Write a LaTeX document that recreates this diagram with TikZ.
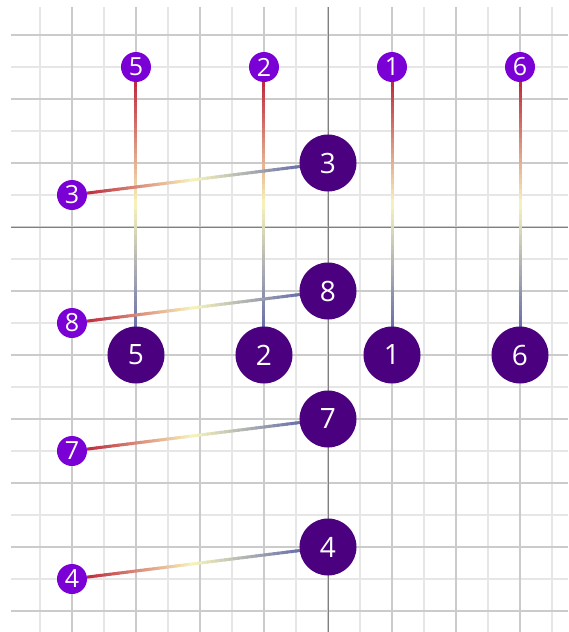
\documentclass[tikz,border=0pt]{standalone}
\usepackage{fontspec}
\setmainfont{Open Sans}
\usetikzlibrary{calc}
\definecolor{lred}{HTML}{BE2A3C}
\definecolor{lyel}{HTML}{F8F4BC}
\definecolor{lblu}{HTML}{6870A8}
\definecolor{dotsm}{HTML}{7A00D6}
\definecolor{dotbg}{HTML}{4B0080}
\definecolor{gridmin}{HTML}{E6E6E6}
\definecolor{gridmaj}{HTML}{CBCBCB}
\definecolor{gridax}{HTML}{808080}
\pgfdeclarelayer{grid}
\pgfdeclarelayer{links}
\pgfsetlayers{grid,links,main}
\newcommand{\gradlink}[2]{%
  \coordinate (gs) at ($(#1)!15pt!(#2)$);
  \coordinate (ge) at ($(#2)!28.5pt!(#1)$);
  \foreach \i in {0,...,47}{%
    \pgfmathsetmacro\ta{\i/48}%
    \pgfmathsetmacro\tb{min((\i+1.3)/48,1)}%
    \ifnum\i<24
      \pgfmathsetmacro\pc{100*(1-2*(\i+0.5)/48)}%
      \colorlet{segc}{lred!\pc!lyel}%
    \else
      \pgfmathsetmacro\pc{100*(2*(\i+0.5)/48-1)}%
      \colorlet{segc}{lblu!\pc!lyel}%
    \fi
    \draw[segc,line width=3pt] ($(gs)!\ta!(ge)$) -- ($(gs)!\tb!(ge)$);
  }%
}
\tikzset{
  smalldot/.style={circle,fill=dotsm,text=white,minimum size=30pt,inner sep=0pt,font=\fontsize{25}{25}\selectfont},
  bigdot/.style={circle,fill=dotbg,text=white,minimum size=57pt,inner sep=0pt,font=\fontsize{28}{28}\selectfont}
}
\begin{document}
\begin{tikzpicture}[x=32pt,y=32pt]
\useasboundingbox (-10.25,-12.65625) rectangle (7.5,7.09375);
\begin{pgfonlayer}{grid}
\fill[white] (-10.25,-12.65625) rectangle (7.5,7.09375);
\draw[gridmin,line width=1.5pt] (-9.9,-12.66) grid[step=1] (7.5,6.875);
\draw[gridmaj,line width=1.5pt] (-9.9,-12.66) grid[step=2] (7.5,6.875);
\draw[gridax,line width=0.8pt] (0,-12.66) -- (0,6.875);
\draw[gridax,line width=0.8pt] (-9.9,0) -- (7.5,0);
\end{pgfonlayer}
\node[smalldot] (t5) at (-6,5) {5};
\node[smalldot] (t2) at (-2,5) {2};
\node[smalldot] (t1) at (2,5) {1};
\node[smalldot] (t6) at (6,5) {6};
\node[smalldot] (l3) at (-8,1) {3};
\node[smalldot] (l8) at (-8,-3) {8};
\node[smalldot] (l7) at (-8,-7) {7};
\node[smalldot] (l4) at (-8,-11) {4};
\node[bigdot] (m3) at (0,2) {3};
\node[bigdot] (m8) at (0,-2) {8};
\node[bigdot] (m7) at (0,-6) {7};
\node[bigdot] (m4) at (0,-10) {4};
\node[bigdot] (b5) at (-6,-4) {5};
\node[bigdot] (b2) at (-2,-4) {2};
\node[bigdot] (b1) at (2,-4) {1};
\node[bigdot] (b6) at (6,-4) {6};
\begin{pgfonlayer}{links}
\gradlink{t5}{b5}
\gradlink{t2}{b2}
\gradlink{t1}{b1}
\gradlink{t6}{b6}
\gradlink{l3}{m3}
\gradlink{l8}{m8}
\gradlink{l7}{m7}
\gradlink{l4}{m4}
\end{pgfonlayer}
\end{tikzpicture}
\end{document}
